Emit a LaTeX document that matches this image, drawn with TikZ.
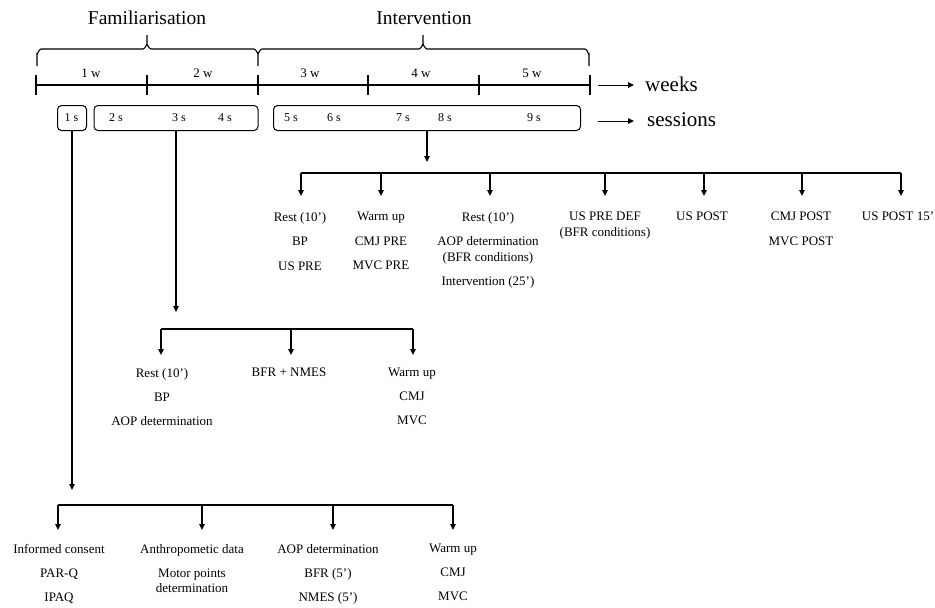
\documentclass[tikz,border=0pt]{standalone}
\usepackage{fontspec}
\setmainfont{Liberation Serif}
\usetikzlibrary{arrows.meta}

\begin{document}
\begin{tikzpicture}[x=1pt,y=-1pt,
  every node/.style={inner sep=0pt},
  col/.style={font=\fontsize{13}{15.5}\selectfont, align=center, anchor=north},
  arr/.style={line width=1.4pt, -{Triangle[length=6pt,width=5.5pt]}},
  bar/.style={line width=1.4pt},
  sbox/.style={draw, line width=1pt, rounded corners=4pt, minimum height=25pt},
  slab/.style={font=\fontsize{12}{14}\selectfont},
  wlab/.style={font=\fontsize{13}{15}\selectfont},
  phase/.style={font=\fontsize{19.5}{22}\selectfont},
  legend/.style={font=\fontsize{21}{24}\selectfont, anchor=west},
  brc/.style={line width=1.1pt},
  axis/.style={line width=2.4pt},
  tick/.style={line width=2.2pt},
]
\useasboundingbox (0,0) rectangle (935,608);

% ---- phases: curly braces over the weeks ----
\draw[brc] (37,66) -- (37,54) to[out=270,in=180] (41,49) -- (143,49)
  to[out=0,in=90] (147,45) -- (147,35);
\draw[brc] (147,45) to[out=90,in=180] (151,49) -- (254,49)
  to[out=0,in=270] (258,53) -- (258,66);
\draw[brc] (258,53) to[out=270,in=180] (262,49) -- (419,49)
  to[out=0,in=90] (423,45) -- (423,35);
\draw[brc] (423,45) to[out=90,in=180] (427,49) -- (585,49)
  to[out=0,in=270] (589,54) -- (589,66);
\node[phase] (fam) at (147,18) {Familiarisation};
\node[phase] (int) at (424,18) {Intervention};

% ---- weeks axis ----
\foreach \i/\x in {0/36,1/147,2/258,3/368,4/479,5/590}{
  \coordinate (w\i) at (\x,85);
  \draw[tick] (\x,75) -- (\x,95);
}
\draw[axis] (w0) -- (w5);
\node[wlab] (wk1) at (91,73) {1 w};
\node[wlab] (wk2) at (203,73) {2 w};
\node[wlab] (wk3) at (310,73) {3 w};
\node[wlab] (wk4) at (421,73) {4 w};
\node[wlab] (wk5) at (532,73) {5 w};

% ---- sessions ----
\node[sbox, minimum width=29pt] (s1) at (72,118) {};
\node[sbox, minimum width=164pt] (s2) at (176,118) {};
\node[sbox, minimum width=307pt] (s3) at (427,118) {};
\node[slab] (ss1) at (71.5,118) {1 s};
\node[slab] (ss2) at (116,118) {2 s};
\node[slab] (ss3) at (179,118) {3 s};
\node[slab] (ss4) at (225,118) {4 s};
\node[slab] (ss5) at (291,118) {5 s};
\node[slab] (ss6) at (334,118) {6 s};
\node[slab] (ss7) at (403,118) {7 s};
\node[slab] (ss8) at (445,118) {8 s};
\node[slab] (ss9) at (534,118) {9 s};

% ---- legend ----
\coordinate (la1) at (598,85);
\coordinate (la2) at (634,85);
\coordinate (lb1) at (598,121);
\coordinate (lb2) at (634,121);
\draw[arr, line width=1pt] (la1) -- (la2);
\draw[arr, line width=1pt] (lb1) -- (lb2);
\node[legend] (weeks) at (645,84) {weeks};
\node[legend] (sessions) at (647,120) {sessions};

% ---- intervention sessions (5s-9s) ----
\coordinate (it) at (427,162);
\draw[arr] (s3.south) -- (it);
\foreach \i/\x in {1/301,2/381,3/490,4/605,5/704,6/802,7/901}{
  \coordinate (ib\i) at (\x,173);
  \coordinate (ia\i) at (\x,196);
  \draw[arr] (ib\i) -- (ia\i);
}
\draw[bar] (ib1) -- (ib7);
\node[col] (ic1) at (300,212) {Rest (10')\\[9pt]BP\\[9pt]US PRE};
\node[col] (ic2) at (381,212) {Warm up\\[9pt]CMJ PRE\\[9pt]MVC PRE};
\node[col] (ic3) at (488,212) {Rest (10')\\[9pt]AOP determination\\(BFR conditions)\\[9pt]Intervention (25')};
\node[col] (ic4) at (605,212) {US PRE DEF\\(BFR conditions)};
\node[col] (ic5) at (702,212) {US POST};
\node[col] (ic6) at (801,212) {CMJ POST\\[9pt]MVC POST};
\node[col] (ic7) at (898,212) {US POST 15'};

% ---- familiarisation sessions (2s-4s) ----
\coordinate (ft) at (176,312);
\draw[arr] (s2.south) -- (ft);
\foreach \i/\x in {1/161,2/291,3/413}{
  \coordinate (fb\i) at (\x,329);
  \coordinate (fa\i) at (\x,355);
  \draw[arr] (fb\i) -- (fa\i);
}
\draw[bar] (fb1) -- (fb3);
\node[col] (fc1) at (162,368) {Rest (10')\\[8.5pt]BP\\[8.5pt]AOP determination};
\node[col] (fc2) at (289,368) {BFR + NMES};
\node[col] (fc3) at (412,368) {Warm up\\[8.5pt]CMJ\\[8.5pt]MVC};

% ---- first session (1s) ----
\coordinate (bt) at (72,490);
\draw[arr] (s1.south) -- (bt);
\foreach \i/\x in {1/58,2/202,3/333,4/453}{
  \coordinate (bb\i) at (\x,505);
  \coordinate (ba\i) at (\x,530);
  \draw[arr] (bb\i) -- (ba\i);
}
\draw[bar] (bb1) -- (bb4);
\node[col] (bc1) at (59,544) {Informed consent\\[8.5pt]PAR-Q\\[8.5pt]IPAQ};
\node[col] (bc2) at (192,544) {Anthropometic data\\[8.5pt]Motor points\\determination};
\node[col] (bc3) at (328,544) {AOP determination\\[8.5pt]BFR (5')\\[8.5pt]NMES (5')};
\node[col] (bc4) at (453,544) {Warm up\\[8.5pt]CMJ\\[8.5pt]MVC};
\end{tikzpicture}
\end{document}
